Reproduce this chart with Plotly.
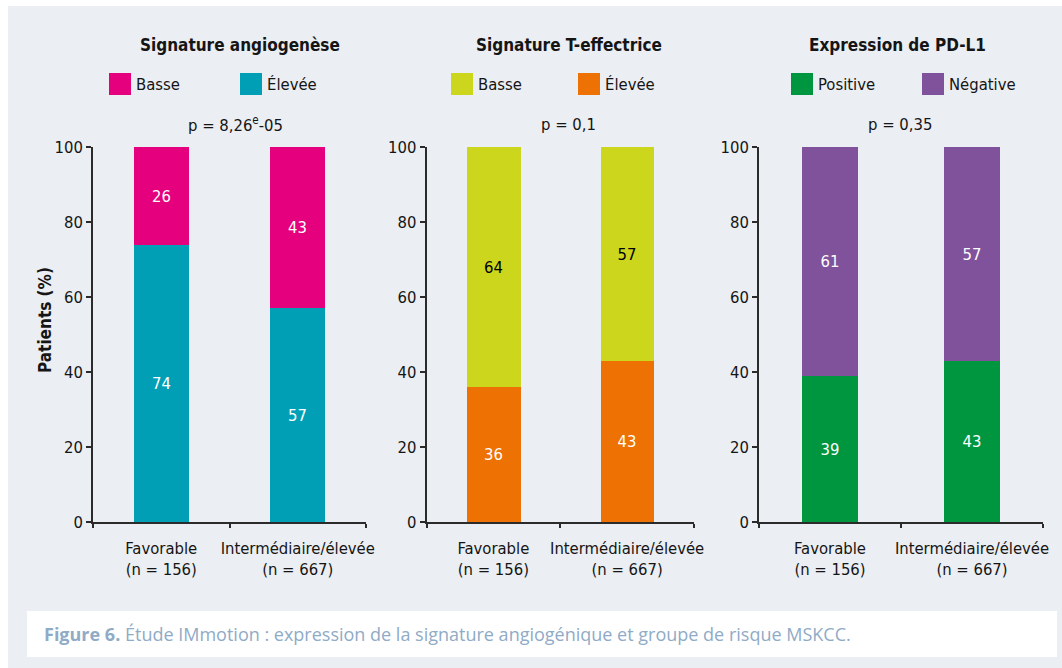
import plotly.graph_objects as go

# ---- data ----
groups = ["Favorable", "Intermédiaire/élevée"]
group_n = [156, 667]

angio_basse = [26, 43]
angio_elevee = [74, 57]

teff_basse = [64, 57]
teff_elevee = [36, 43]

pdl1_positive = [39, 43]
pdl1_negative = [61, 57]

panel_titles = ["Signature angiogenèse", "Signature T-effectrice", "Expression de PD-L1"]
p_values = ["p = 8,26<sup>e</sup>-05", "p = 0,1", "p = 0,35"]
y_ticks = [0, 20, 40, 60, 80, 100]
caption_bold = "Figure 6."
caption_text = " Étude IMmotion : expression de la signature angiogénique et groupe de risque MSKCC."

# ---- styling ----
W, H = 1062, 668
NARROW = "Liberation Sans Narrow, DejaVu Sans Condensed, Arial Narrow, sans-serif"
BG = "#ebeef2"
AXIS = "#2b2b2b"
INK = "#151515"
CAPTION = "#8fabc6"

PINK, TEAL = "#e5007d", "#009fb6"
LIME, ORANGE = "#ccd61d", "#ee7203"
GREEN, PURPLE = "#00953f", "#80529b"

labels = [f"{g}<br>(n = {n})" for g, n in zip(groups, group_n)]


def px_x(x):
    return x / W


def px_y(y):
    return 1 - y / H


# plot area in pixels: (left, right) per panel; shared top / bottom
panel_x = [(93, 366), (426.5, 694), (759, 1043)]
top, bottom = 147, 522

# (bottom series, top series) for each panel
panels = [
    [("Élevée", angio_elevee, TEAL, "white"), ("Basse", angio_basse, PINK, "white")],
    [("Élevée", teff_elevee, ORANGE, "white"), ("Basse", teff_basse, LIME, "black")],
    [("Positive", pdl1_positive, GREEN, "white"), ("Négative", pdl1_negative, PURPLE, "white")],
]

# legend entries in drawn order (left, right) with square x position
legend_layout = [
    [("Basse", PINK, 109), ("Élevée", TEAL, 240)],
    [("Basse", LIME, 451), ("Élevée", ORANGE, 578)],
    [("Positive", GREEN, 791), ("Négative", PURPLE, 922)],
]
title_cx = [240, 569, 897]
p_cx = [235, 568, 900]

fig = go.Figure()
shapes = []
annotations = []

# background panel and caption box
shapes.append(dict(type="rect", xref="paper", yref="paper", x0=px_x(8), x1=1.0,
                   y0=0, y1=px_y(6), fillcolor=BG, line_width=0, layer="below"))
shapes.append(dict(type="rect", xref="paper", yref="paper", x0=px_x(27), x1=px_x(1057),
                   y0=px_y(657), y1=px_y(611), fillcolor="white", line_width=0, layer="below"))

for i, series in enumerate(panels):
    ax = "" if i == 0 else str(i + 1)
    for name, vals, color, tcolor in series:
        fig.add_trace(go.Bar(
            x=labels, y=vals, name=name, width=0.4,
            marker=dict(color=color, line=dict(width=0)),
            text=vals, texttemplate="%{y}", textposition="inside",
            insidetextanchor="middle", textangle=0,
            textfont=dict(family=NARROW, size=16.5, color=tcolor),
            xaxis="x" + ax, yaxis="y" + ax, showlegend=False,
        ))
    x0, x1 = panel_x[i]
    fig.layout["xaxis" + ax] = dict(
        domain=[px_x(x0), px_x(x1)], anchor="y" + ax, type="category",
        range=[-0.5, 1.5], tickson="boundaries", ticks="outside", ticklen=4,
        tickcolor=AXIS, tickwidth=1.5, showline=True, linecolor=AXIS, linewidth=1.5,
        showgrid=False, zeroline=False, tickangle=0, automargin=False,
        ticklabelstandoff=10,
        tickfont=dict(family=NARROW, size=16.5, color=INK),
    )
    fig.layout["yaxis" + ax] = dict(
        domain=[px_y(bottom), px_y(top)], anchor="x" + ax, range=[0, 100],
        tickvals=y_ticks, ticks="outside", ticklen=5, tickcolor=AXIS, tickwidth=1.5,
        showline=True, linecolor=AXIS, linewidth=1.5, showgrid=False, zeroline=False,
        automargin=False,
        tickfont=dict(family=NARROW, size=16.5, color=INK),
    )

    # panel title
    annotations.append(dict(xref="paper", yref="paper", x=px_x(title_cx[i]), y=px_y(45),
                            text=f"<b>{panel_titles[i]}</b>", showarrow=False,
                            xanchor="center", yanchor="middle",
                            font=dict(family=NARROW, size=17, color=INK)))
    # legend squares and labels
    for name, color, sx in legend_layout[i]:
        shapes.append(dict(type="rect", xref="paper", yref="paper",
                           x0=px_x(sx), x1=px_x(sx + 22), y0=px_y(95), y1=px_y(73),
                           fillcolor=color, line_width=0))
        annotations.append(dict(xref="paper", yref="paper", x=px_x(sx + 25), y=px_y(84),
                                text=name, showarrow=False, xanchor="left", yanchor="middle",
                                font=dict(family=NARROW, size=16.5, color=INK)))
    # p-value
    annotations.append(dict(xref="paper", yref="paper", x=px_x(p_cx[i]), y=px_y(124),
                            text=p_values[i], showarrow=False, xanchor="center",
                            yanchor="middle", font=dict(family=NARROW, size=16.5, color=INK)))

# y axis title
annotations.append(dict(xref="paper", yref="paper", x=px_x(45), y=px_y(320),
                        text="<b>Patients (%)</b>", textangle=-90, showarrow=False,
                        xanchor="center", yanchor="middle",
                        font=dict(family=NARROW, size=17, color=INK)))

# caption
annotations.append(dict(xref="paper", yref="paper", x=px_x(42), y=px_y(634),
                        text=f"<b>{caption_bold}</b>{caption_text}", showarrow=False,
                        xanchor="left", yanchor="middle",
                        font=dict(family="Open Sans, Noto Sans, sans-serif", size=18,
                                  color=CAPTION)))

fig.update_layout(
    width=W, height=H, margin=dict(l=0, r=0, t=0, b=0, autoexpand=False),
    paper_bgcolor="white", plot_bgcolor="rgba(0,0,0,0)",
    barmode="stack", bargap=0, showlegend=False,
    shapes=shapes, annotations=annotations,
)

fig.write_html("out.html")
